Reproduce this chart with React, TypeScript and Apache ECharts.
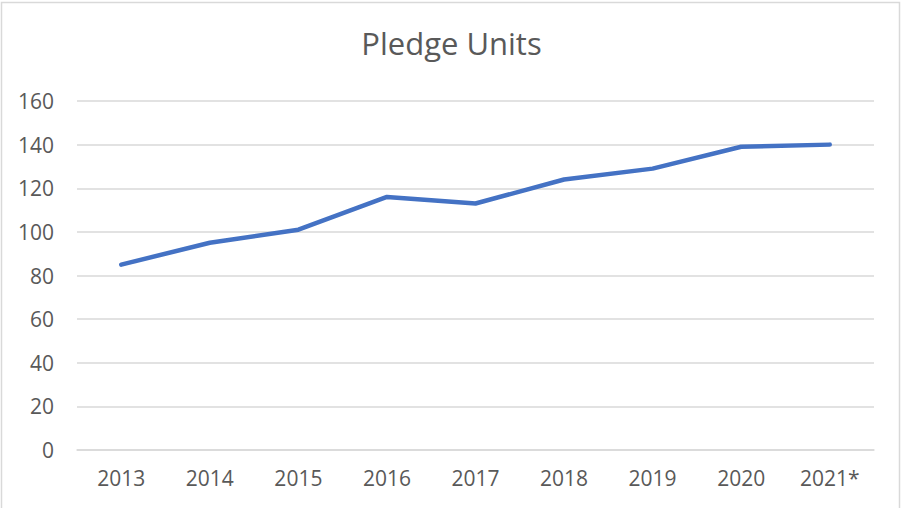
import React, { useEffect, useRef } from "react";
import * as echarts from "echarts";

const categories = ["2013", "2014", "2015", "2016", "2017", "2018", "2019", "2020", "2021*"];
const pledgeUnits = [85, 95, 101, 116, 113, 124, 129, 139, 140];
const yTicks = { min: 0, max: 160, interval: 20 };

export default function App() {
  const ref = useRef<HTMLDivElement>(null);
  useEffect(() => {
    document.body.style.margin = "0";
    const chart = echarts.init(ref.current!, null, { renderer: "svg" });
    const font = "'Open Sans', 'Liberation Sans', sans-serif";
    chart.setOption({
      animation: false,
      backgroundColor: "#ffffff",
      title: {
        text: "Pledge Units",
        left: "center",
        top: 22,
        textStyle: { fontFamily: font, fontSize: 31, fontWeight: "normal", color: "#595959" },
      },
      graphic: [
        {
          type: "rect",
          shape: { x: 1.5, y: 2.5, width: 898, height: 520 },
          style: { fill: "none", stroke: "#d9d9d9", lineWidth: 1.5 },
          silent: true,
        },
      ],
      grid: { left: 77, right: 29, top: 101, bottom: 58 },
      xAxis: {
        type: "category",
        data: categories,
        boundaryGap: true,
        axisLine: { show: true, lineStyle: { color: "#d9d9d9", width: 1.5 } },
        axisTick: { show: false },
        axisLabel: { fontFamily: font, fontSize: 21, color: "#595959", margin: 17 },
      },
      yAxis: {
        type: "value",
        min: yTicks.min,
        max: yTicks.max,
        interval: yTicks.interval,
        axisLine: { show: false },
        axisTick: { show: false },
        splitLine: { lineStyle: { color: "#d9d9d9", width: 1.5 } },
        axisLabel: { fontFamily: font, fontSize: 21, color: "#595959", margin: 23 },
      },
      series: [
        {
          type: "line",
          data: pledgeUnits,
          symbol: "none",
          lineStyle: { color: "#4472C4", width: 4.5, cap: "round", join: "round" },
        },
      ],
    });
    return () => chart.dispose();
  }, []);
  return <div ref={ref} style={{ position: "absolute", left: 0, top: 0, width: 903, height: 508 }} />;
}
